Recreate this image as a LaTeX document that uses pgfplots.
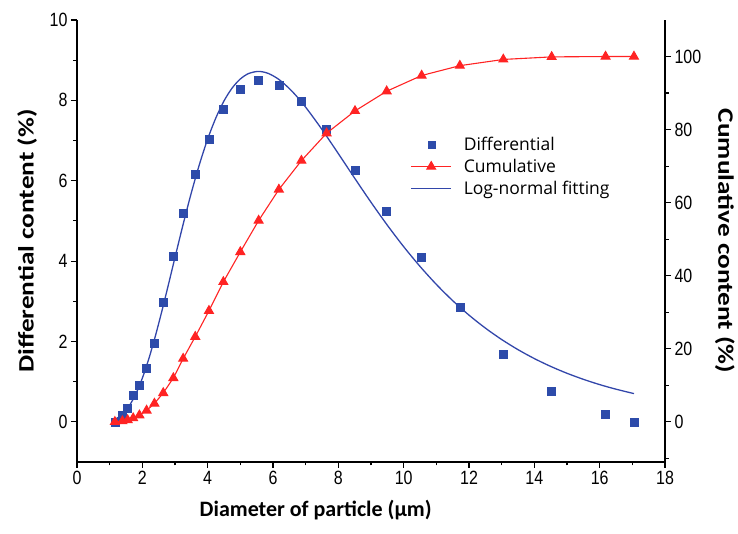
\documentclass[border=0pt]{standalone}
\usepackage{pgfplots}
\pgfplotsset{compat=1.18}
\usepackage{fontspec}
\setmainfont{Liberation Sans}
\newfontfamily\labelfont{Carlito}
\newfontfamily\legfont{Open Sans}
\definecolor{dblue}{RGB}{45,75,170}
\definecolor{cred}{RGB}{255,35,35}
\definecolor{fitblue}{RGB}{50,70,170}

\pgfplotsset{
  common/.style={
    scale only axis, width=588pt, height=442pt,
    xmin=0, xmax=18,
    tick align=outside,
    major tick length=6pt, minor tick length=3.5pt,
    every tick/.style={black, line width=1.1pt},
    axis line style={line width=1.3pt, black},
    tick label style={font=\fontsize{16}{16}\selectfont},
    /pgf/number format/assume math mode=true,
    xticklabel={\scalebox{1}[1.2]{\pgfmathprintnumber{\tick}}},
    yticklabel={\scalebox{1}[1.2]{\pgfmathprintnumber{\tick}}},
  }
}

\begin{document}
\begin{tikzpicture}
\useasboundingbox (-77pt,-72pt) rectangle (661pt,462pt);
\begin{axis}[common,
  axis x line*=bottom, axis y line*=left,
  ymin=-1, ymax=10,
  xtick={0,2,...,18}, minor xtick={1,3,...,17},
  ytick={0,2,...,10}, minor ytick={1,3,...,9},
  xlabel={Diameter of particle (µm)},
  ylabel={\scalebox{1.24}[1]{Differential content (\%)}},
  xlabel style={at={(axis description cs:0.406,-0.108)}, anchor=center, font=\labelfont\bfseries\fontsize{22}{22}\selectfont},
  ylabel style={at={(axis description cs:-0.085,0.5)}, anchor=center, font=\labelfont\bfseries\fontsize{22}{22}\selectfont},
]
\addplot[fitblue, line width=1.3pt, smooth] table {
x y
1.1 0.046
1.2 0.080
1.3 0.129
1.4 0.196
1.5 0.284
1.6 0.395
1.8 0.691
2.0 1.086
2.2 1.573
2.4 2.138
2.6 2.761
2.8 3.419
3.0 4.091
3.25 4.918
3.5 5.700
3.75 6.412
4.0 7.036
4.25 7.562
4.5 7.986
4.75 8.308
5.0 8.532
5.25 8.666
5.55 8.720
5.85 8.672
6.2 8.509
6.6 8.212
7.0 7.829
7.5 7.274
8.0 6.674
8.5 6.063
9.0 5.464
9.5 4.893
10.0 4.359
10.5 3.868
11.0 3.420
11.5 3.016
12.0 2.655
12.5 2.333
13.0 2.048
13.5 1.796
14.0 1.574
14.5 1.379
15.0 1.208
15.5 1.058
16.0 0.926
16.5 0.812
17.05 0.702
};
\addplot[only marks, mark=square*, mark size=4pt, dblue] table {
x y
1.16 0.00
1.39 0.16
1.55 0.35
1.72 0.66
1.91 0.92
2.13 1.34
2.37 1.96
2.64 2.98
2.95 4.13
3.25 5.20
3.62 6.15
4.04 7.03
4.48 7.77
5.00 8.27
5.56 8.49
6.18 8.38
6.87 7.98
7.64 7.29
8.51 6.27
9.48 5.25
10.55 4.09
11.72 2.85
13.05 1.69
14.53 0.76
16.18 0.19
17.05 0.00
};
\end{axis}
\begin{axis}[common,
  axis x line=none, axis y line*=right,
  ymin=-11, ymax=110,
  ytick={0,20,...,100}, minor ytick={-10,10,30,50,70,90},
  ylabel={\scalebox{1.24}[1]{Cumulative content (\%)}},
  ylabel style={at={(axis description cs:1.102,0.5)}, anchor=center, rotate=180, font=\labelfont\bfseries\fontsize{22}{22}\selectfont},
  legend cell align=left,
  legend image code/.code={\draw[mark repeat=2,mark phase=2,#1] plot coordinates {(0cm,0cm) (0.7cm,0cm) (1.4cm,0cm)}; \path (0cm,0cm) (1.75cm,0cm);},
  legend style={at={(axis description cs:0.562,0.744)}, anchor=north west, draw=none, fill=none, font=\legfont\fontsize{17.5}{17.5}\selectfont, row sep=3pt},
]
\addlegendimage{only marks, mark=square*, mark size=3.5pt, dblue}
\addlegendentry{Differential}
\addplot[cred, line width=1.1pt, mark=triangle*, mark size=5pt] table {
x y
1.16 0.0
1.39 0.2
1.55 0.5
1.72 1.0
1.91 1.8
2.13 3.1
2.37 5.0
2.64 7.9
2.95 12.0
3.25 17.3
3.62 23.3
4.04 30.4
4.48 38.3
5.00 46.5
5.56 55.1
6.18 63.6
6.87 71.5
7.64 79.0
8.51 85.1
9.48 90.5
10.55 94.8
11.72 97.5
13.05 99.2
14.53 99.9
16.18 100.0
17.05 100.0
};
\addlegendentry{Cumulative}
\addlegendimage{fitblue, line width=1.3pt}
\addlegendentry{Log-normal fitting}
\end{axis}
\end{tikzpicture}
\end{document}
